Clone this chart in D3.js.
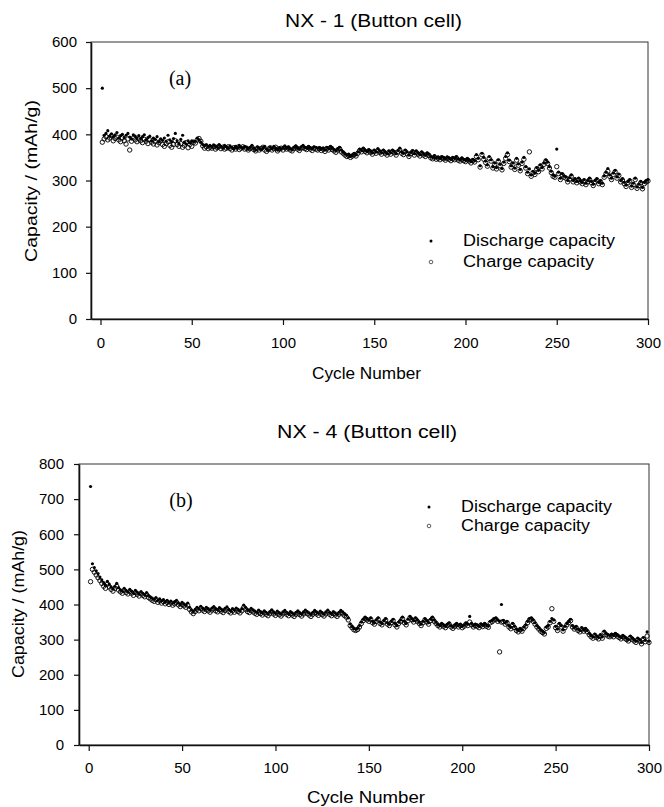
<!DOCTYPE html>
<html>
<head>
<meta charset="utf-8">
<script src="https://cdn.jsdelivr.net/npm/d3@7"></script>
<style>
  body { margin: 0; background: #fff; }
  svg { display: block; font-family: "Liberation Sans", Arial, sans-serif; }
</style>
</head>
<body>
<svg id="chart" width="664" height="807"></svg>
<script>
// #### data (one value per cycle, cycles 1..300)
const cycles = d3.range(1, 301);
const xTicks = [0, 50, 100, 150, 200, 250, 300];
const yTicksA = [0, 100, 200, 300, 400, 500, 600];
const yTicksB = [0, 100, 200, 300, 400, 500, 600, 700, 800];
const legendLabels = ['Discharge capacity', 'Charge capacity'];

// NX - 1
const dischargeA = [
  500, 398, 402, 408, 396, 401, 395, 399, 404, 392, 397, 400, 393, 398, 402, 394, 390, 399, 396, 392,
  397, 391, 395, 399, 388, 393, 396, 386, 392, 389, 395, 384, 390, 387, 392, 385, 398, 388, 384, 391,
  402, 386, 380, 389, 398, 383, 379, 386, 382, 386, 384, 385, 392, 388, 383, 378, 376, 378, 374, 376,
  373, 377, 375, 372, 378, 374, 371, 376, 373, 370, 375, 372, 369, 374, 371, 376, 372, 370, 374, 372,
  368, 372, 376, 370, 366, 373, 370, 367, 371, 374, 368, 365, 372, 369, 374, 370, 366, 371, 368, 372,
  375, 370, 373, 369, 367, 372, 375, 371, 368, 373, 376, 372, 370, 374, 371, 369, 373, 372, 370, 371,
  368, 370, 366, 372, 369, 374, 371, 367, 365, 369, 372, 366, 362, 358, 355, 357, 352, 355, 359, 356,
  362, 368, 365, 370, 366, 363, 367, 364, 360, 366, 362, 369, 364, 360, 366, 362, 358, 364, 360, 366,
  363, 358, 365, 370, 362, 359, 366, 362, 355, 361, 365, 358, 364, 360, 356, 362, 358, 355, 360, 357,
  352, 350, 354, 349, 351, 348, 352, 350, 347, 351, 349, 346, 350, 348, 352, 347, 345, 349, 346, 344,
  348, 345, 341, 346, 343, 356, 348, 332, 359, 350, 342, 334, 352, 345, 330, 338, 328, 345, 335, 326,
  340, 352, 360, 344, 332, 338, 327, 348, 336, 324, 340, 350, 330, 318, 325, 312, 320, 316, 328, 322,
  334, 328, 338, 345, 340, 330, 320, 312, 310, 368, 318, 305, 315, 310, 308, 300, 306, 312, 300, 304,
  298, 305, 300, 296, 302, 294, 300, 305, 298, 292, 300, 304, 296, 300, 294, 310, 318, 326, 312, 305,
  316, 322, 308, 314, 300, 304, 296, 290, 298, 302, 288, 294, 305, 286, 292, 298, 285, 296, 300, 302
];
const chargeA = [
  383, 390, 395, 388, 392, 397, 386, 391, 394, 388, 384, 392, 386, 379, 390, 366, 385, 392, 388, 384,
  390, 386, 382, 389, 385, 380, 388, 383, 379, 385, 377, 382, 386, 378, 374, 380, 384, 376, 372, 378,
  386, 378, 374, 380, 372, 376, 382, 371, 378, 374, 383, 381, 388, 391, 385, 375, 370, 373, 369, 372,
  370, 373, 368, 371, 374, 369, 372, 368, 370, 373, 369, 366, 371, 368, 372, 367, 370, 373, 368, 370,
  366, 369, 372, 367, 364, 370, 366, 369, 372, 366, 363, 368, 371, 366, 369, 372, 364, 368, 370, 366,
  371, 368, 370, 366, 364, 369, 372, 368, 365, 370, 372, 369, 367, 371, 368, 365, 370, 368, 366, 369,
  365, 368, 363, 369, 366, 371, 367, 364, 361, 366, 369, 362, 359, 355, 352, 354, 350, 353, 356, 353,
  359, 365, 362, 367, 363, 360, 364, 361, 357, 363, 359, 365, 361, 357, 363, 359, 355, 361, 357, 363,
  360, 355, 362, 366, 359, 356, 363, 358, 352, 358, 362, 355, 361, 357, 353, 359, 355, 352, 357, 354,
  349, 347, 351, 346, 348, 345, 349, 347, 344, 348, 346, 343, 347, 345, 349, 344, 342, 346, 343, 341,
  345, 342, 338, 343, 340, 352, 345, 329, 356, 346, 339, 331, 348, 342, 327, 335, 325, 342, 332, 323,
  337, 348, 356, 341, 329, 335, 324, 344, 333, 321, 337, 346, 327, 315, 362, 309, 317, 313, 325, 319,
  331, 325, 335, 342, 337, 327, 317, 309, 307, 330, 315, 302, 312, 307, 305, 297, 303, 309, 297, 301,
  295, 302, 297, 293, 299, 291, 297, 302, 295, 289, 297, 301, 293, 297, 291, 307, 315, 320, 309, 302,
  313, 319, 305, 311, 297, 301, 293, 287, 295, 299, 285, 291, 302, 283, 289, 295, 282, 293, 297, 299
];

// NX - 4
const dischargeB = [
  736, 516, 505, 496, 488, 478, 470, 462, 455, 466, 458, 450, 445, 452, 460, 448, 442, 438, 446, 440,
  436, 443, 438, 432, 440, 435, 430, 437, 432, 428, 434, 426, 422, 418, 415, 420, 412, 416, 410, 414,
  408, 412, 406, 410, 404, 408, 412, 405, 400, 406, 402, 398, 404, 392, 385, 380, 386, 392, 388, 395,
  390, 386, 392, 388, 384, 390, 394, 388, 385, 391, 387, 383, 389, 393, 386, 382, 388, 384, 390, 386,
  382, 388, 398, 392, 386, 383, 389, 385, 381, 378, 384, 380, 376, 382, 378, 374, 380, 385, 379, 375,
  381, 377, 373, 379, 383, 378, 374, 380, 376, 372, 378, 382, 377, 373, 379, 384, 380, 376, 372, 378,
  383, 379, 375, 381, 377, 373, 379, 384, 378, 374, 380, 376, 372, 378, 383, 379, 374, 370, 362, 345,
  338, 332, 330, 333, 340, 350, 358, 364, 360, 356, 362, 352, 348, 356, 362, 350, 346, 354, 360, 348,
  344, 352, 358, 346, 340, 350, 356, 364, 352, 346, 358, 366, 360, 354, 362, 356, 350, 344, 352, 360,
  354, 348, 358, 364, 356, 350, 344, 340, 346, 342, 338, 344, 348, 340, 336, 342, 346, 340, 344, 338,
  342, 348, 344, 366, 346, 340, 344, 342, 338, 345, 341, 346, 342, 339, 352, 355, 360, 362, 356, 352,
  400, 355, 348, 352, 340, 335, 346, 338, 330, 326, 332, 328, 336, 342, 352, 360, 362, 356, 348, 340,
  334, 328, 324, 320, 336, 340, 352, 360, 356, 338, 330, 346, 340, 328, 338, 346, 352, 358, 340, 334,
  338, 330, 326, 334, 328, 332, 326, 318, 312, 308, 316, 310, 306, 314, 308, 324, 318, 314, 312, 316,
  312, 318, 314, 310, 306, 312, 308, 304, 300, 310, 305, 300, 296, 304, 300, 292, 306, 298, 322, 296
];
const chargeB = [
  465, 500, 492, 484, 476, 468, 460, 452, 446, 458, 450, 443, 438, 446, 452, 441, 436, 432, 440, 434,
  430, 437, 432, 426, 434, 429, 424, 431, 426, 422, 428, 420, 416, 412, 409, 414, 406, 410, 404, 408,
  402, 406, 400, 404, 398, 402, 406, 399, 394, 400, 396, 392, 398, 386, 379, 374, 380, 386, 382, 389,
  384, 380, 386, 382, 378, 384, 388, 382, 379, 385, 381, 377, 383, 387, 380, 376, 382, 378, 384, 380,
  376, 382, 392, 386, 380, 377, 383, 379, 375, 372, 378, 374, 370, 376, 372, 368, 374, 379, 373, 369,
  375, 371, 367, 373, 377, 372, 368, 374, 370, 366, 372, 376, 371, 367, 373, 378, 374, 370, 366, 372,
  377, 373, 369, 375, 371, 367, 373, 378, 372, 368, 374, 370, 366, 372, 377, 373, 368, 364, 356, 340,
  334, 328, 326, 329, 336, 346, 354, 360, 356, 352, 358, 348, 344, 352, 358, 346, 342, 350, 356, 344,
  340, 348, 354, 342, 336, 346, 352, 360, 348, 342, 354, 362, 356, 350, 358, 352, 346, 340, 348, 356,
  350, 344, 354, 360, 352, 346, 340, 336, 342, 338, 334, 340, 344, 336, 332, 338, 342, 336, 340, 334,
  338, 344, 340, 350, 342, 336, 340, 338, 334, 341, 337, 342, 338, 335, 348, 351, 356, 358, 352, 265,
  350, 351, 344, 348, 336, 331, 342, 334, 326, 322, 328, 324, 332, 338, 348, 356, 358, 352, 344, 336,
  330, 324, 320, 316, 332, 336, 348, 388, 352, 334, 326, 342, 336, 324, 334, 342, 348, 354, 336, 330,
  334, 326, 322, 330, 324, 328, 322, 314, 308, 304, 312, 306, 302, 310, 304, 320, 314, 310, 308, 312,
  308, 314, 310, 306, 302, 308, 304, 300, 296, 306, 301, 296, 292, 300, 296, 288, 302, 294, 310, 292
];

const svg = d3.select('#chart');

// One panel = frame + axes + two scatter series + titles and legend.
const drawPanel = p => {
  const x = d3.scaleLinear().domain([-5.2, 300]).range([p.left, p.right]);
  const y = d3.scaleLinear().domain([0, p.yMax]).range([p.bottom, p.top]);
  const g = svg.append('g');

  // light frame (top/right)
  g.append('rect')
    .attr('x', p.left).attr('y', p.top)
    .attr('width', p.right - p.left).attr('height', p.bottom - p.top)
    .attr('fill', 'none').attr('stroke', '#333').attr('stroke-width', 1);

  const xAxis = g.append('g')
    .attr('transform', `translate(0,${ p.bottom })`)
    .call(d3.axisBottom(x).tickValues(xTicks).tickSize(6).tickSizeOuter(0).tickPadding(p.xPad));
  const yAxis = g.append('g')
    .attr('transform', `translate(${ p.left },0)`)
    .call(d3.axisLeft(y).tickValues(p.yTicks).tickSize(5).tickSizeOuter(0).tickPadding(p.yPad));

  [xAxis, yAxis].forEach(ax => {
    ax.select('.domain').attr('stroke', '#111').attr('stroke-width', 1.6);
    ax.selectAll('.tick line').attr('stroke', '#111').attr('stroke-width', 1.2);
    ax.selectAll('text')
      .attr('fill', '#000')
      .style('font-family', '"Liberation Sans", Arial, sans-serif')
      .style('font-size', '15px');
  });

  const plot = g.append('g');
  const pts = cycles.map((c, i) => ({ c, d: p.discharge[i], ch: p.charge[i] }));

  plot.selectAll('.charge')
    .data(pts)
    .enter().append('circle')
    .attr('class', 'charge')
    .attr('cx', d => x(d.c))
    .attr('cy', d => y(d.ch))
    .attr('r', 2.2)
    .attr('fill', 'none')
    .attr('stroke', '#000')
    .attr('stroke-width', 0.9);

  plot.selectAll('.discharge')
    .data(pts)
    .enter().append('circle')
    .attr('class', 'discharge')
    .attr('cx', d => x(d.c))
    .attr('cy', d => y(d.d))
    .attr('r', 1.6)
    .attr('fill', '#000');

  // titles
  g.append('text')
    .attr('x', p.titleX).attr('y', p.titleY)
    .attr('font-size', 18)
    .attr('textLength', p.titleLen).attr('lengthAdjust', 'spacingAndGlyphs')
    .attr('fill', '#000')
    .text(p.title);

  g.append('text')
    .attr('x', p.xLabelX).attr('y', p.xLabelY)
    .attr('font-size', 16.5)
    .attr('textLength', p.xLabelLen).attr('lengthAdjust', 'spacingAndGlyphs')
    .attr('fill', '#000')
    .text('Cycle Number');

  g.append('text')
    .attr('transform', `translate(${ p.yLabelX },${ p.yLabelY }) rotate(-90)`)
    .attr('x', -p.yLabelLen / 2)
    .attr('font-size', p.yLabelSize)
    .attr('textLength', p.yLabelLen).attr('lengthAdjust', 'spacingAndGlyphs')
    .attr('fill', '#000')
    .text('Capacity / (mAh/g)');

  g.append('text')
    .attr('x', p.tagX).attr('y', p.tagY)
    .attr('font-family', '"Liberation Serif", "Times New Roman", serif')
    .attr('font-size', 20)
    .attr('text-anchor', 'middle')
    .attr('fill', '#000')
    .text(p.tag);

  // legend
  const legend = g.append('g')
    .selectAll('g')
    .data(legendLabels)
    .enter().append('g')
    .attr('transform', (d, i) => `translate(0,${ p.legY[i] })`);

  legend.append('circle')
    .attr('cx', p.legX)
    .attr('cy', 0)
    .attr('r', (d, i) => i === 0 ? 1.5 : 1.8)
    .attr('fill', (d, i) => i === 0 ? '#000' : 'none')
    .attr('stroke', (d, i) => i === 0 ? 'none' : '#333')
    .attr('stroke-width', 0.8);

  legend.append('text')
    .attr('x', p.legTextX)
    .attr('y', 5)
    .attr('font-size', 16)
    .attr('textLength', (d, i) => p.legLen[i]).attr('lengthAdjust', 'spacingAndGlyphs')
    .attr('fill', '#000')
    .text(d => d);
};

drawPanel({
  left: 91, right: 648, top: 42, bottom: 319,
  yMax: 600, yTicks: yTicksA, xPad: 12, yPad: 9,
  discharge: dischargeA, charge: chargeA,
  title: 'NX - 1 (Button cell)', titleX: 285, titleY: 27, titleLen: 177,
  xLabelX: 312, xLabelY: 379, xLabelLen: 109,
  yLabelX: 37, yLabelY: 181, yLabelLen: 162, yLabelSize: 17,
  tag: '(a)', tagX: 180, tagY: 85,
  legX: 431, legTextX: 463, legY: [241, 262], legLen: [152, 131],
});

drawPanel({
  left: 79, right: 649, top: 464, bottom: 745,
  yMax: 800, yTicks: yTicksB, xPad: 11, yPad: 10,
  discharge: dischargeB, charge: chargeB,
  title: 'NX - 4 (Button cell)', titleX: 277, titleY: 438, titleLen: 180,
  xLabelX: 307, xLabelY: 803, xLabelLen: 118,
  yLabelX: 24, yLabelY: 604, yLabelLen: 148, yLabelSize: 16,
  tag: '(b)', tagX: 181, tagY: 507,
  legX: 429, legTextX: 461, legY: [507, 526], legLen: [151, 129],
});
</script>
</body>
</html>
